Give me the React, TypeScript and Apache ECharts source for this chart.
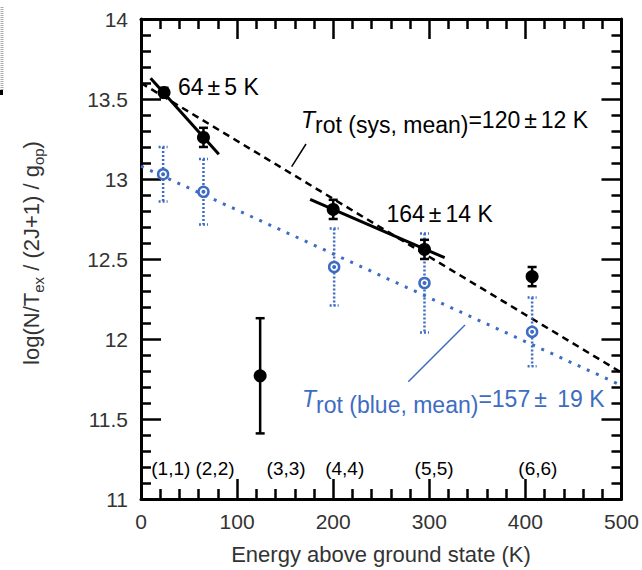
import React, { useEffect, useRef } from "react";
import * as echarts from "echarts";

// ---- data ----
const transitions = ["(1,1)", "(2,2)", "(3,3)", "(4,4)", "(5,5)", "(6,6)"];
const labelEnergy = [31, 77, 151, 212, 305, 413];
const labelLevel = 11.19;

const energyBlack = [24, 65, 124, 200, 295, 407];
const logBlack = [13.54, 13.26, 11.77, 12.81, 12.56, 12.39];
const errBlack = [0.03, 0.06, 0.36, 0.06, 0.06, 0.06];

const energyBlue = [23, 65, 201, 295, 407];
const logBlue = [13.03, 12.92, 12.45, 12.35, 12.045];
const errBlue = [0.17, 0.205, 0.24, 0.31, 0.215];

const sysFitEnergy = [0, 500];
const sysFitLog = [13.6, 11.79];
const blueFitEnergy = [0, 500];
const blueFitLog = [13.08, 11.71];
const fit64Energy = [10, 81];
const fit64Log = [13.63, 13.155];
const fit164Energy = [176, 316];
const fit164Log = [12.873, 12.508];

const BLUE = "#3d6cc2";
const FONT = "Liberation Sans";
const GRAY = "#333";
const ANN = 23;

const zip2 = (a: number[], b: number[]) => a.map((v, i) => [v, b[i]]);
const zip3 = (a: number[], b: number[], c: number[]) => a.map((v, i) => [v, b[i], c[i]]);

function errorBars(color: string, dash: number[] | null, width: number) {
  return (params: any, api: any) => {
    const x = api.value(0);
    const y = api.value(1);
    const e = api.value(2);
    const top = api.coord([x, y + e]);
    const bot = api.coord([x, y - e]);
    const hw = 4.5;
    const style: any = { stroke: color, lineWidth: width, fill: null };
    if (dash) style.lineDash = dash;
    return {
      type: "group",
      children: [
        { type: "line", shape: { x1: top[0], y1: top[1], x2: bot[0], y2: bot[1] }, style },
        { type: "line", shape: { x1: top[0] - hw, y1: top[1], x2: top[0] + hw, y2: top[1] }, style },
        { type: "line", shape: { x1: bot[0] - hw, y1: bot[1], x2: bot[0] + hw, y2: bot[1] }, style },
      ],
    };
  };
}

function richT(color: string, sub: string, val: string, err: string, off: number) {
  const base = { fontFamily: FONT, fontSize: ANN, lineHeight: 25, fill: color, color };
  return {
    text: `{t|T}{s|${sub}}{m|${val}}{p|±}{m|${err}}`,
    rich: {
      t: { ...base, fontStyle: "italic", padding: [0, 0, off, 0], verticalAlign: "bottom" },
      s: { ...base, verticalAlign: "bottom" },
      m: { ...base, padding: [0, 0, off, 0], verticalAlign: "bottom" },
      p: { ...base, padding: [0, 4, off, 4], verticalAlign: "bottom" },
    },
    align: "left",
    verticalAlign: "bottom",
  };
}

function richPM(a: string, b: string) {
  const base = { fontFamily: FONT, fontSize: ANN, lineHeight: 25, fill: "#000", color: "#000" };
  return {
    text: `{m|${a}}{p|±}{m|${b}}`,
    rich: { m: base, p: { ...base, padding: [0, 4, 0, 4] } },
    align: "left",
    verticalAlign: "middle",
  };
}

export default function App() {
  const ref = useRef<HTMLDivElement>(null);
  useEffect(() => {
    document.body.style.margin = "0";
    const chart = echarts.init(ref.current!, null, { renderer: "svg" });
    const axisLine = { show: true, onZero: false, lineStyle: { color: "#000", width: 3 } };
    const tick = { show: true, inside: true, length: 20, lineStyle: { color: "#000", width: 2.5 } };
    const minor = { show: true, splitNumber: 5, length: 10, lineStyle: { color: "#000", width: 2.5 } };
    const label = { fontFamily: FONT, fontSize: 21, color: GRAY };
    const option: any = {
      animation: false,
      grid: { left: 141, top: 19, right: 20, bottom: 71 },
      xAxis: [
        {
          type: "value", min: 0, max: 500, interval: 100, position: "bottom",
          axisLine, axisTick: tick, minorTick: minor, splitLine: { show: false },
          axisLabel: { ...label, margin: 12 },
        },
        {
          type: "value", min: 0, max: 500, interval: 100, position: "top",
          axisLine, axisTick: tick, minorTick: minor, splitLine: { show: false },
          axisLabel: { show: false },
        },
      ],
      yAxis: [
        {
          type: "value", min: 11, max: 14, interval: 0.5, position: "left",
          axisLine, axisTick: tick, minorTick: minor, splitLine: { show: false },
          axisLabel: { ...label, margin: 13 },
        },
        {
          type: "value", min: 11, max: 14, interval: 0.5, position: "right",
          axisLine, axisTick: tick, minorTick: minor, splitLine: { show: false },
          axisLabel: { show: false },
        },
      ],
      series: [
        {
          type: "line", data: zip2(blueFitEnergy, blueFitLog), symbol: "none", z: 2,
          lineStyle: { color: BLUE, width: 3, type: [3, 7] },
        },
        {
          type: "line", data: zip2(sysFitEnergy, sysFitLog), symbol: "none", z: 2,
          lineStyle: { color: "#000", width: 2.5, type: [7, 5] },
        },
        {
          type: "line", data: zip2(fit64Energy, fit64Log), symbol: "none", z: 3,
          lineStyle: { color: "#000", width: 3 },
        },
        {
          type: "line", data: zip2(fit164Energy, fit164Log), symbol: "none", z: 3,
          lineStyle: { color: "#000", width: 3 },
        },
        {
          type: "custom", data: zip3(energyBlue, logBlue, errBlue), z: 4,
          renderItem: errorBars(BLUE, [2, 2], 2.5), encode: { x: 0, y: 1 },
        },
        {
          type: "custom", data: zip3(energyBlack, logBlack, errBlack), z: 4,
          renderItem: errorBars("#000", null, 2.5), encode: { x: 0, y: 1 },
        },
        {
          type: "scatter", data: zip2(energyBlue, logBlue), z: 5, symbol: "circle", symbolSize: 10,
          itemStyle: { color: "#fff", borderColor: BLUE, borderWidth: 2.5, opacity: 1 },
        },
        {
          type: "scatter", data: zip2(energyBlue, logBlue), z: 6, symbol: "circle", symbolSize: 4,
          itemStyle: { color: BLUE, opacity: 1 },
        },
        {
          type: "scatter", data: zip2(energyBlack, logBlack), z: 6, symbol: "circle", symbolSize: 13,
          itemStyle: { color: "#000", opacity: 1 },
        },
        {
          type: "custom", z: 7,
          data: transitions.map((t, i) => [labelEnergy[i], labelLevel, t]),
          encode: { x: 0, y: 1 },
          renderItem: (params: any, api: any) => {
            const p = api.coord([api.value(0), api.value(1)]);
            return {
              type: "text", x: p[0], y: p[1],
              style: {
                text: transitions[params.dataIndex], fontFamily: FONT, fontSize: 19,
                fill: "#000", align: "center", verticalAlign: "middle",
              },
            };
          },
        },
      ],
      graphic: [
        { type: "line", shape: { x1: 2, y1: 7, x2: 2, y2: 90 }, style: { stroke: "#aaa", lineWidth: 3, lineDash: [1, 1] } },
        { type: "rect", shape: { x: 0, y: 90, width: 3, height: 5 }, style: { fill: "#000" } },
        { type: "text", x: 178, y: 87, style: richPM("64", "5 K") },
        { type: "text", x: 386.5, y: 213.7, style: richPM("164", "14 K") },
        { type: "text", x: 301, y: 136.5, style: richT("#000", "rot (sys, mean)", "=120", "12 K", 5) },
        { type: "text", x: 302, y: 416.2, style: richT(BLUE, "rot (blue, mean)", "=157", " 19 K", 6) },
        { type: "line", shape: { x1: 291.7, y1: 166.7, x2: 306, y2: 144 }, style: { stroke: "#000", lineWidth: 1.5 } },
        { type: "line", shape: { x1: 408.3, y1: 381.7, x2: 465, y2: 325 }, style: { stroke: BLUE, lineWidth: 1.5 } },
        {
          type: "text", x: 381, y: 554.4,
          style: { text: "Energy above ground state (K)", fontFamily: FONT, fontSize: 22, fill: GRAY, align: "center", verticalAlign: "middle" },
        },
        {
          type: "text", x: 34.4, y: 253, rotation: Math.PI / 2,
          style: {
            text: "{m|log(N/T}{s|ex}{m| / (2J+1) / g}{s|op}{m|)}",
            rich: {
              m: { fontFamily: FONT, fontSize: 22, lineHeight: 24, fill: GRAY, color: GRAY, padding: [0, 0, 4, 0], verticalAlign: "bottom" },
              s: { fontFamily: FONT, fontSize: 15, lineHeight: 16, fill: GRAY, color: GRAY, verticalAlign: "bottom" },
            },
            align: "center",
            verticalAlign: "middle",
          },
        },
      ],
    };
    chart.setOption(option);
    return () => chart.dispose();
  }, []);
  return <div ref={ref} style={{ width: 642, height: 570 }} />;
}
